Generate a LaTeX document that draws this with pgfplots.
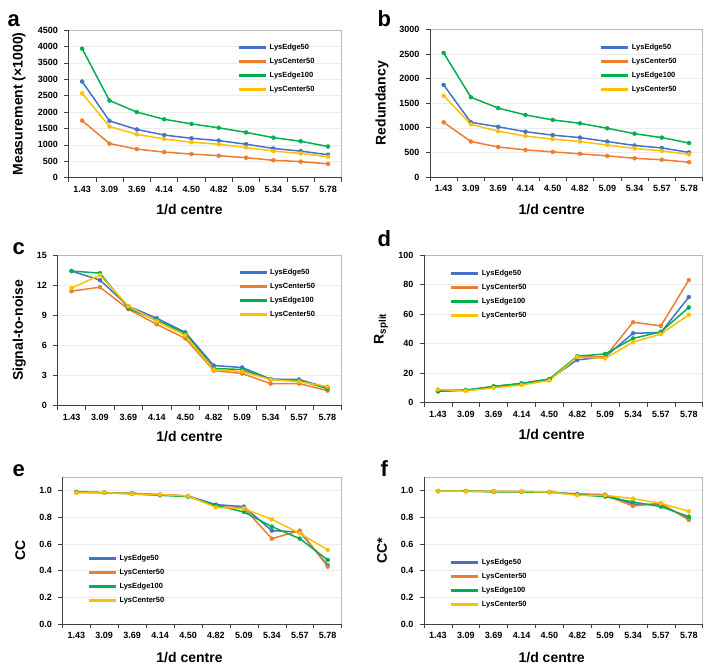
\documentclass[border=0pt]{standalone}
\usepackage{fontspec}
\setmainfont{Liberation Sans}
\usepackage{pgfplots}
\usepackage{pgfplotstable}
\pgfplotsset{compat=1.18}

\definecolor{cBlue}{HTML}{4472C4}
\definecolor{cOrange}{HTML}{ED7D31}
\definecolor{cGreen}{HTML}{00B050}
\definecolor{cYellow}{HTML}{FFC000}

% columns: LysEdge50, LysCenter50, LysEdge100, LysCenter50 (second)
\pgfplotstableread{
x  e50   c50   e100  c50b
1  2930  1740  3930  2570
2  1730  1040  2350  1560
3  1470  870   2000  1320
4  1300  780   1780  1180
5  1200  720   1640  1080
6  1130  670   1520  1020
7  1020  610   1380  920
8  890   530   1220  810
9  810   490   1110  740
10 700   420   950   640
}\measTab

\pgfplotstableread{
x  e50   c50   e100  c50b
1  1870  1110  2520  1650
2  1110  720   1620  1070
3  1020  610   1400  930
4  920   550   1260  830
5  850   510   1160  770
6  800   470   1090  720
7  720   430   990   650
8  640   380   880   580
9  590   350   800   530
10 500   300   690   460
}\redTab

\pgfplotstableread{
x  e50   c50   e100  c50b
1  13.4  11.4  13.4  11.7
2  12.5  11.8  13.2  13.0
3  9.9   9.6   9.7   9.9
4  8.7   8.1   8.5   8.4
5  7.3   6.7   7.2   7.0
6  4.0   3.5   3.7   3.6
7  3.8   3.2   3.6   3.4
8  2.65  2.2   2.6   2.6
9  2.6   2.2   2.5   2.4
10 1.8   1.5   1.7   1.9
}\snTab

\pgfplotstableread{
x  e50   c50   e100  c50b
1  7.8   8.5   7.7   9
2  8.5   8.5   8.5   8
3  11    10.5  11    10
4  13    12.5  13    12
5  16    15.5  16    15
6  29    31    31.5  31
7  31    31    33    30
8  47    54.5  43.5  41
9  47.5  52    48    46.5
10 71.5  83    64.5  59.5
}\rsTab

\pgfplotstableread{
x  e50   c50   e100  c50b
1  0.99  0.985 0.99  0.985
2  0.985 0.985 0.985 0.985
3  0.98  0.98  0.975 0.975
4  0.97  0.97  0.965 0.97
5  0.96  0.96  0.955 0.96
6  0.895 0.88  0.89  0.875
7  0.88  0.87  0.84  0.865
8  0.70  0.64  0.73  0.785
9  0.69  0.70  0.64  0.68
10 0.44  0.43  0.48  0.555
}\ccTab

\pgfplotstableread{
x  e50   c50   e100  c50b
1  0.997 0.997 0.997 0.997
2  0.996 0.996 0.996 0.995
3  0.993 0.995 0.992 0.994
4  0.992 0.993 0.99  0.993
5  0.99  0.99  0.988 0.99
6  0.975 0.97  0.97  0.965
7  0.97  0.965 0.955 0.965
8  0.90  0.885 0.915 0.94
9  0.895 0.905 0.88  0.905
10 0.79  0.78  0.805 0.845
}\ccsTab

\pgfplotsset{
  panel/.style={
    scale only axis, anchor=south west,
    xmin=0.5, xmax=10.5, ymin=0,
    xtick={0.5,1.5,...,10.5}, xticklabels={},
    extra x ticks={1,2,...,10},
    extra x tick labels={1.43,3.09,3.69,4.14,4.50,4.82,5.09,5.34,5.57,5.78},
    extra x tick style={major tick length=0pt, grid=none},
    tick pos=left, tick align=outside, major tick length=4pt,
    tick style={draw=black!75, line width=0.6pt},
    axis line style={draw=gray!55, line width=0.6pt},
    ymajorgrids, grid style={draw=gray!15, line width=0.5pt},
    scaled y ticks=false,
    /pgf/number format/1000 sep={},
    /pgf/number format/assume math mode=true,
    tick label style={font=\bfseries\fontsize{9}{10}\selectfont},
    yticklabel style={xshift=-3pt},
    xticklabel style={text height=6.6pt, text depth=0pt, yshift=-4.5pt},
    label style={font=\bfseries\fontsize{14}{16}\selectfont},
    legend cell align=left,
    legend image code/.code={\draw[line width=3pt] (0pt,0pt) -- (27pt,0pt);},
    legend style={draw=none, fill=none, inner sep=0pt, row sep=3.2pt,
      font=\bfseries\fontsize{7.5}{8}\selectfont, anchor=north west},
    every axis plot/.append style={line width=1.5pt, mark=*, mark size=2pt,
      mark options={line width=0.4pt}},
    cycle list={{cBlue},{cOrange},{cGreen},{cYellow}},
    after end axis/.code={
      \draw[black!75, line width=0.7pt] (rel axis cs:0,1) -- (rel axis cs:0,0) -- (rel axis cs:1,0);
    },
  },
  % #1 ylabel centre offset from axis left, #2 xlabel centre from axis left,
  % #3 xlabel baseline below axis, #4 legend x offset, #5 legend y offset
  labs/.style n args={5}{
    ylabel style={at={([xshift=#1pt]axis description cs:0,0.5)}, anchor=center},
    xlabel style={at={([xshift=#2pt,yshift=-#3pt]axis description cs:0,0)}, anchor=base},
    legend style={at={([xshift=#4pt,yshift=-#5pt]axis description cs:0,1)}},
  },
}

\begin{document}
\begin{tikzpicture}[x=1pt,y=1pt,font=\bfseries]
\path[use as bounding box] (0,0) rectangle (707,664);

\node[anchor=base west, font=\bfseries\fontsize{22}{26}\selectfont] at (4,637) {a};
\node[anchor=base west, font=\bfseries\fontsize{22}{26}\selectfont] at (374,637) {b};
\node[anchor=base west, font=\bfseries\fontsize{22}{26}\selectfont] at (9,409) {c};
\node[anchor=base west, font=\bfseries\fontsize{22}{26}\selectfont] at (374,417) {d};
\node[anchor=base west, font=\bfseries\fontsize{22}{26}\selectfont] at (9,187) {e};
\node[anchor=base west, font=\bfseries\fontsize{22}{26}\selectfont] at (377,187) {f};

% a
\begin{axis}[panel, at={(68.5pt,486.3pt)}, width=273.2pt, height=147.7pt,
  ymax=4500, ytick={0,500,...,4500},
  xlabel={1/d centre}, ylabel={Measurement (×1000)},
  labs={-49.5}{121}{37}{169}{12}]
\addplot table[y=e50]{\measTab};
\addplot table[y=c50]{\measTab};
\addplot table[y=e100]{\measTab};
\addplot table[y=c50b]{\measTab};
\legend{LysEdge50,LysCenter50,LysEdge100,LysCenter50}
\end{axis}

% b
\begin{axis}[panel, at={(430pt,487pt)}, width=272.7pt, height=147.7pt,
  ymax=3000, ytick={0,500,...,3000},
  xlabel={1/d centre}, ylabel={Redundancy},
  labs={-48}{121.7}{37.5}{169.7}{12.7}]
\addplot table[y=e50]{\redTab};
\addplot table[y=c50]{\redTab};
\addplot table[y=e100]{\redTab};
\addplot table[y=c50b]{\redTab};
\legend{LysEdge50,LysCenter50,LysEdge100,LysCenter50}
\end{axis}

% c
\begin{axis}[panel, at={(57.3pt,258.3pt)}, width=284.4pt, height=150.7pt,
  ymax=15, ytick={0,3,...,15},
  xlabel={1/d centre}, ylabel={Signal-to-noise},
  labs={-38}{132.2}{35.5}{180.7}{11.6}]
\addplot table[y=e50]{\snTab};
\addplot table[y=c50]{\snTab};
\addplot table[y=e100]{\snTab};
\addplot table[y=c50b]{\snTab};
\legend{LysEdge50,LysCenter50,LysEdge100,LysCenter50}
\end{axis}

% d
\begin{axis}[panel, at={(424pt,261.3pt)}, width=278.7pt, height=147.7pt,
  ymax=100, ytick={0,20,...,100},
  xlabel={1/d centre}, ylabel={R\textsubscript{split}},
  labs={-43}{127.7}{36.5}{25.7}{12.6}]
\addplot table[y=e50]{\rsTab};
\addplot table[y=c50]{\rsTab};
\addplot table[y=e100]{\rsTab};
\addplot table[y=c50b]{\rsTab};
\legend{LysEdge50,LysCenter50,LysEdge100,LysCenter50}
\end{axis}

% e
\begin{axis}[panel, at={(62.3pt,40pt)}, width=279.4pt, height=146.7pt,
  ymax=1.1, ytick={0,0.2,...,1.0},
  yticklabel style={/pgf/number format/.cd, fixed, fixed zerofill, precision=1},
  xlabel={1/d centre}, ylabel={CC},
  labs={-42}{127.2}{38}{25}{75.3}]
\addplot table[y=e50]{\ccTab};
\addplot table[y=c50]{\ccTab};
\addplot table[y=e100]{\ccTab};
\addplot table[y=c50b]{\ccTab};
\legend{LysEdge50,LysCenter50,LysEdge100,LysCenter50}
\end{axis}

% f
\begin{axis}[panel, at={(424pt,40pt)}, width=278.7pt, height=146.7pt,
  ymax=1.1, ytick={0,0.2,...,1.0},
  yticklabel style={/pgf/number format/.cd, fixed, fixed zerofill, precision=1},
  xlabel={1/d centre}, ylabel={CC*},
  labs={-42}{127.7}{38}{25.7}{79.7}]
\addplot table[y=e50]{\ccsTab};
\addplot table[y=c50]{\ccsTab};
\addplot table[y=e100]{\ccsTab};
\addplot table[y=c50b]{\ccsTab};
\legend{LysEdge50,LysCenter50,LysEdge100,LysCenter50}
\end{axis}
\end{tikzpicture}
\end{document}
